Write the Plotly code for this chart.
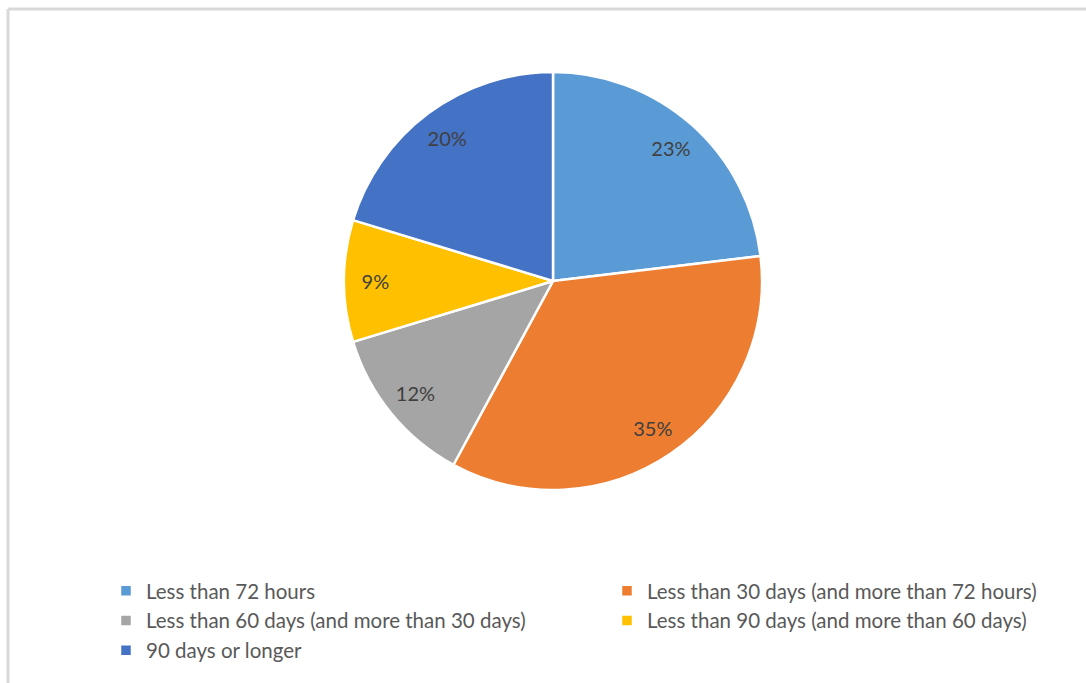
import plotly.graph_objects as go

categories = [
    "Less than 72 hours",
    "Less than 30 days (and more than 72 hours)",
    "Less than 60 days (and more than 30 days)",
    "Less than 90 days (and more than 60 days)",
    "90 days or longer",
]
values = [23.1, 34.8, 12.4, 9.4, 20.3]
colors = ["#5B9BD5", "#ED7D31", "#A5A5A5", "#FFC000", "#4472C4"]

W, H = 1086, 683
cx, cy, r = 553, 281, 209
dom = dict(x=[(cx - r) / W, (cx + r) / W], y=[1 - (cy + r) / H, 1 - (cy - r) / H])
FONT = "Lato, Carlito, sans-serif"

fig = go.Figure()
fig.add_trace(go.Pie(
    labels=categories,
    values=values,
    sort=False,
    direction="clockwise",
    rotation=0,
    marker=dict(colors=colors, line=dict(color="white", width=2.5)),
    textinfo="none",
    hoverinfo="label+percent",
    domain=dom,
))
# label ring: transparent donut used only to place the percentage labels
fig.add_trace(go.Pie(
    labels=categories,
    values=values,
    sort=False,
    direction="clockwise",
    rotation=0,
    hole=0.7,
    marker=dict(colors=["rgba(0,0,0,0)"] * len(values), line=dict(width=0)),
    texttemplate="%{percent:.0%}",
    textposition="inside",
    insidetextorientation="horizontal",
    textfont=dict(family=FONT, size=20, color="#404040"),
    hoverinfo="skip",
    showlegend=False,
    domain=dom,
))

fig.update_layout(
    width=W, height=H,
    margin=dict(l=0, r=0, t=0, b=0, autoexpand=False),
    paper_bgcolor="white",
    plot_bgcolor="white",
    showlegend=True,
    legend=dict(
        orientation="h",
        x=106 / W, xanchor="left",
        y=1 - 571 / H, yanchor="top",
        entrywidth=456,
        entrywidthmode="pixels",
        font=dict(family=FONT, size=20.5, color="#595959"),
        traceorder="normal",
        bgcolor="rgba(0,0,0,0)",
    ),
    shapes=[
        dict(type="line", xref="paper", yref="paper", x0=8 / W, x1=1, y0=1 - 9 / H, y1=1 - 9 / H,
             line=dict(color="#D9D9D9", width=3)),
        dict(type="line", xref="paper", yref="paper", x0=8 / W, x1=8 / W, y0=0, y1=1 - 9 / H,
             line=dict(color="#D9D9D9", width=3)),
    ],
)

fig.write_html("out.html")
